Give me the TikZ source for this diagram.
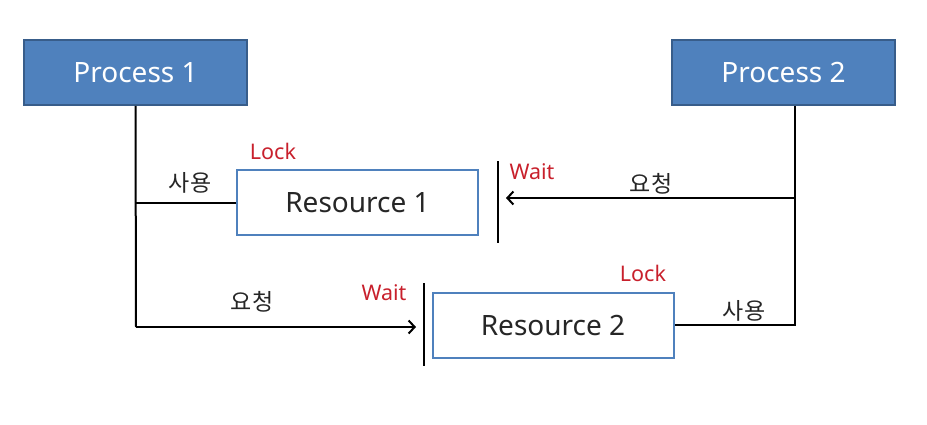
\documentclass[tikz,border=0pt]{standalone}
\usepackage{fontspec}
\setmainfont{Noto Sans}
\newfontfamily\kr{Noto Sans CJK KR}
\usetikzlibrary{arrows.meta}
\definecolor{procfill}{HTML}{4F81BD}
\definecolor{procdraw}{HTML}{385D8A}
\definecolor{lockred}{HTML}{C8202C}
\tikzset{
  proc/.style={draw=procdraw, line width=1.8pt, fill=procfill, text=white,
    minimum width=223pt, minimum height=65pt, inner sep=0pt, font=\fontsize{28}{32}\selectfont},
  res/.style={draw=procfill, line width=2pt, fill=white, text=black!85,
    minimum width=241pt, minimum height=65pt, inner sep=0pt, font=\fontsize{28}{32}\selectfont},
  conn/.style={line width=2pt, black},
  bar/.style={line width=2.4pt, black},
  arr/.style={conn, -{Straight Barb[length=6pt,width=13pt,line width=2pt]}},
  redlbl/.style={text=lockred, font=\fontsize{21.5}{24}\selectfont, inner sep=0pt},
  krlbl/.style={text=black!85, font=\kr\fontsize{23}{26}\selectfont, inner sep=0pt}
}
\begin{document}
\begin{tikzpicture}[x=1pt,y=-1pt]
\useasboundingbox (0,0) rectangle (927,424);
\node[proc] (p1) at (135.5,72.5) {Process 1};
\node[proc] (p2) at (783.5,72.5) {Process 2};
\node[res] (r1) at (357.5,202.5) {Resource 1};
\node[res] (r2) at (553,325) {Resource 2};
% wait bars
\coordinate (b1t) at (498,161);
\coordinate (b1b) at (498,243);
\coordinate (b2t) at (424,283);
\coordinate (b2b) at (424,366);
\draw[bar] (b1t) -- (b1b);
\draw[bar] (b2t) -- (b2b);
% arrow ends
\coordinate (a1) at (506,198);
\coordinate (a2) at (416,327);
\coordinate (j1) at (136,327);
\coordinate (j2) at (795,198);
\coordinate (t2) at (p2.south -| j2);
% Process 1 connectors
\draw[conn] (p1.south) -- (j1);
\draw[conn] (r1.west) -- (r1.west -| j1);
\draw[arr] (j1) -- (a2);
% Process 2 connectors
\draw[conn] (t2) -- (t2 |- r2.east) -- (r2.east);
\draw[arr] (j2) -- (a1);
% labels
\node[redlbl] (l1) at (273,151) {Lock};
\node[redlbl] (w1) at (532,172) {Wait};
\node[redlbl] (w2) at (384,293) {Wait};
\node[redlbl] (l2) at (643,273) {Lock};
\node[krlbl] (s1) at (190,183) {사용};
\node[krlbl] (q1) at (651,184) {요청};
\node[krlbl] (q2) at (252,302) {요청};
\node[krlbl] (s2) at (744,311) {사용};
\end{tikzpicture}
\end{document}
